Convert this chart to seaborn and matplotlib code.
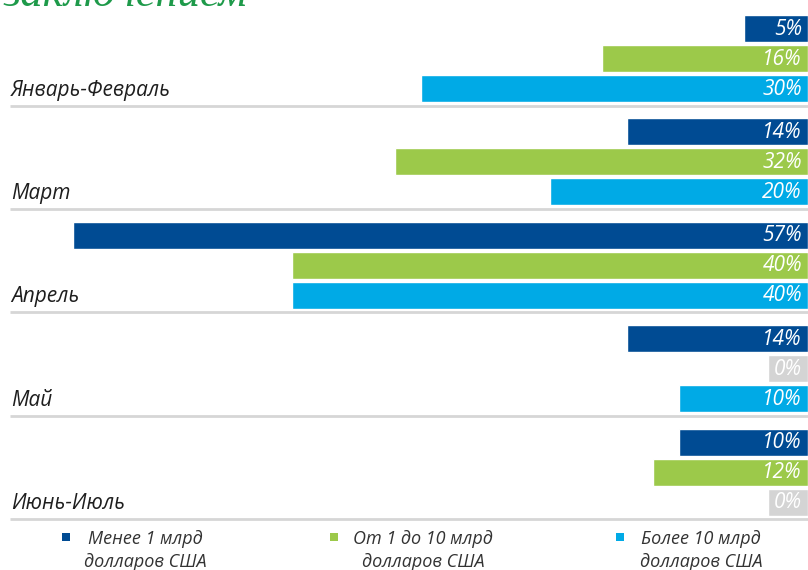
import matplotlib
matplotlib.use("Agg")
import matplotlib.pyplot as plt
import matplotlib.transforms as mtransforms
from matplotlib.patches import Rectangle
import seaborn as sns
import pandas as pd

# ---- data ----
categories = ["Январь-Февраль", "Март", "Апрель", "Май", "Июнь-Июль"]
series_names = ["Менее 1 млрд\nдолларов США",
                "От 1 до 10 млрд\nдолларов США",
                "Более 10 млрд\nдолларов США"]
less_than_1 = [5, 14, 57, 14, 10]
from_1_to_10 = [16, 32, 40, 0, 12]
more_than_10 = [30, 20, 40, 10, 0]
title_text = "заключением"

# ---- style ----
colors = ["#004b93", "#9cc94a", "#00aae6"]
zero_color = "#d4d4d4"
zero_stub = 3.1
sep_color = "#d6d6d6"

sns.set_theme(style="white")
plt.rcParams["font.family"] = ["Open Sans", "DejaVu Sans"]

values = [less_than_1, from_1_to_10, more_than_10]
rows = []
for s, vals in zip(series_names, values):
    for c, v in zip(categories, vals):
        rows.append({"period": c, "series": s, "value": v,
                     "shown": v if v > 0 else zero_stub})
df = pd.DataFrame(rows)

W, H = 808, 570
fig = plt.figure(figsize=(W / 100, H / 100), dpi=100)
ax = fig.add_axes([0, 0, 1, 1])

sns.barplot(data=df, y="period", x="shown", hue="series", orient="h",
            order=categories, hue_order=series_names, palette=colors,
            saturation=1, width=0.87, gap=0.1, legend=False, ax=ax, zorder=3)

ax.set_xlim(808 / 12.9, 0)
ax.set_ylim(4.947, -0.565)
ax.axis("off")

# recolour zero stubs and add value labels
for cont, s in zip(ax.containers, series_names):
    sub = df[df["series"] == s].set_index("period").loc[categories]
    for patch, v in zip(cont.patches, sub["value"]):
        if v == 0:
            patch.set_facecolor(zero_color)
        yc = patch.get_y() + patch.get_height() / 2
        ax.annotate(f"{v}%", xy=(0, yc), xytext=(-4.3, -0.5),
                    textcoords="offset points", ha="right", va="center",
                    color="white", fontsize=15, style="italic", zorder=5)

# category labels and separators
trans = mtransforms.blended_transform_factory(ax.transAxes, ax.transData)
for i, c in enumerate(categories):
    ax.text(11 / W, i + 0.36, c, transform=trans, ha="left", va="baseline",
            fontsize=15, style="italic", color="#1e1e1e")
    ax.plot([10 / W, 1], [i + 0.456, i + 0.456], transform=trans,
            color=sep_color, lw=2.0, zorder=1, solid_capstyle="butt")

# legend
leg_sq_x = [62, 330, 616]
leg_tx_x = [145, 423, 701]
for sx, tx, s, col in zip(leg_sq_x, leg_tx_x, series_names, colors):
    fig.patches.append(Rectangle((sx / W, 1 - 541 / H), 8 / W, 8 / H,
                                 transform=fig.transFigure, facecolor=col,
                                 edgecolor="none"))
    fig.text(tx / W, 1 - 530 / H, s, ha="center", va="top",
             multialignment="center", fontsize=13, style="italic",
             color="#333333", linespacing=1.35)

# cut-off title
fig.text(4 / W, 1 - 6 / H, title_text, ha="left", va="baseline",
         fontsize=32, style="italic", color="#1e9a4a",
         family=["Liberation Serif", "DejaVu Serif"])

fig.savefig("out.png", dpi=100)
